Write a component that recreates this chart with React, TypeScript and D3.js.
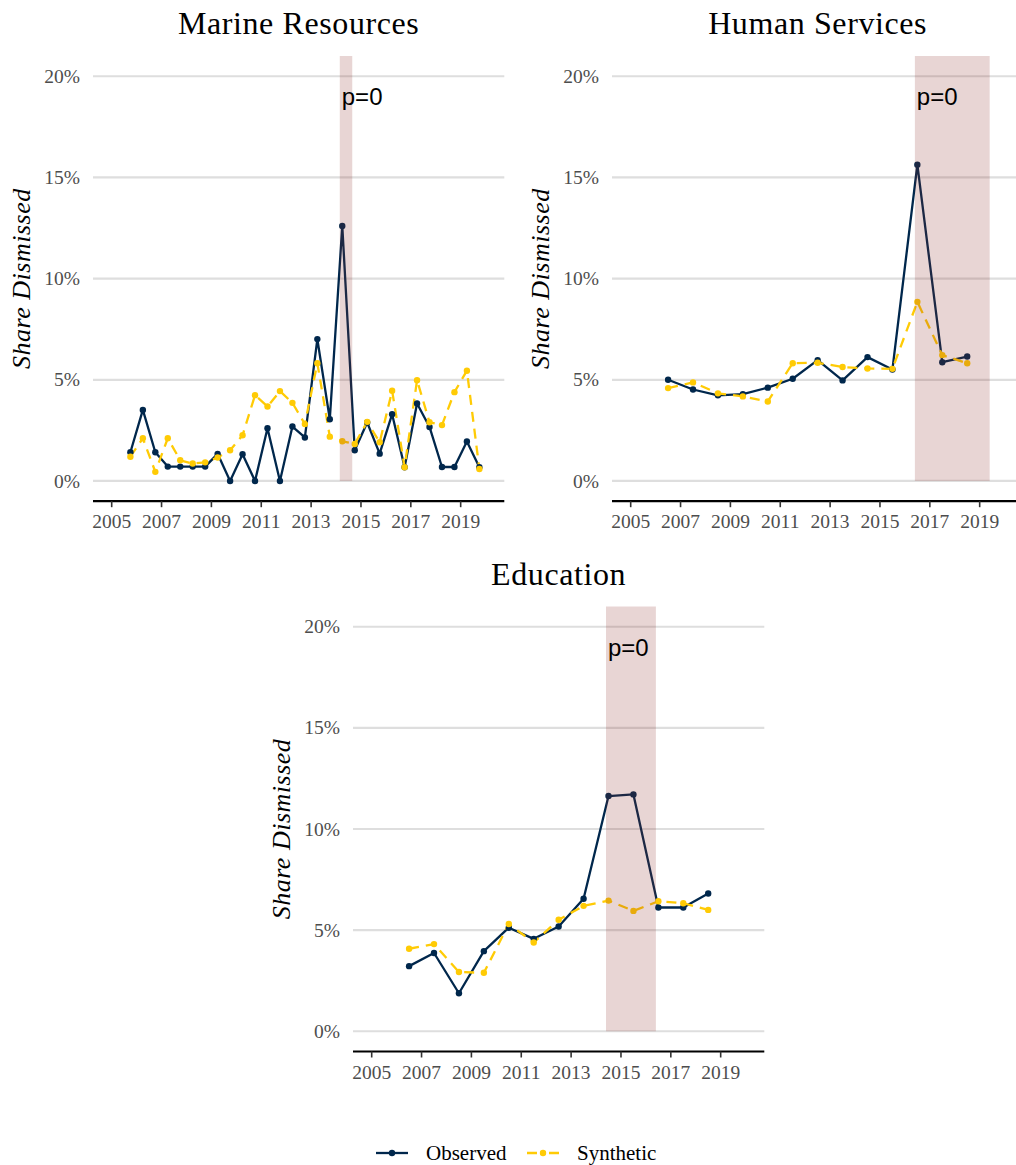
import React from "react";
import * as d3 from "d3";

// Share of employees dismissed (percent) by half-year / year, observed vs. synthetic control
const MARINE_YEARS = [
  2005.75, 2006.25, 2006.75, 2007.25, 2007.75, 2008.25, 2008.75, 2009.25, 2009.75, 2010.25,
  2010.75, 2011.25, 2011.75, 2012.25, 2012.75, 2013.25, 2013.75, 2014.25, 2014.75, 2015.25,
  2015.75, 2016.25, 2016.75, 2017.25, 2017.75, 2018.25, 2018.75, 2019.25, 2019.75,
];
const MARINE_OBSERVED = [
  1.42, 3.51, 1.42, 0.71, 0.71, 0.71, 0.71, 1.34, 0, 1.32,
  0, 2.61, 0, 2.69, 2.15, 7.01, 3.05, 12.6, 1.52, 2.89,
  1.35, 3.3, 0.68, 3.83, 2.67, 0.69, 0.69, 1.95, 0.68,
];
const MARINE_SYNTHETIC = [
  1.2, 2.11, 0.45, 2.11, 1.02, 0.86, 0.92, 1.16, 1.52, 2.26,
  4.24, 3.68, 4.44, 3.86, 2.81, 5.82, 2.19, 1.96, 1.83, 2.92,
  1.91, 4.46, 0.68, 4.98, 2.9, 2.76, 4.39, 5.45, 0.59,
];
const MARINE_BAND = [2014.15, 2014.65];

const HUMAN_YEARS = [2006.5, 2007.5, 2008.5, 2009.5, 2010.5, 2011.5, 2012.5, 2013.5, 2014.5, 2015.5, 2016.5, 2017.5, 2018.5];
const HUMAN_OBSERVED = [5.0, 4.52, 4.23, 4.29, 4.61, 5.05, 5.97, 4.97, 6.12, 5.51, 15.63, 5.87, 6.15];
const HUMAN_SYNTHETIC = [4.59, 4.87, 4.33, 4.18, 3.93, 5.82, 5.84, 5.63, 5.56, 5.54, 8.85, 6.22, 5.82];
const HUMAN_BAND = [2016.4, 2019.4];

const EDU_YEARS = [2006.5, 2007.5, 2008.5, 2009.5, 2010.5, 2011.5, 2012.5, 2013.5, 2014.5, 2015.5, 2016.5, 2017.5, 2018.5];
const EDU_OBSERVED = [3.22, 3.87, 1.88, 3.96, 5.12, 4.57, 5.18, 6.55, 11.63, 11.71, 6.12, 6.12, 6.81];
const EDU_SYNTHETIC = [4.08, 4.31, 2.93, 2.89, 5.3, 4.39, 5.51, 6.2, 6.46, 5.95, 6.43, 6.33, 6.0];
const EDU_BAND = [2014.4, 2016.4];

const X_TICKS = [2005, 2007, 2009, 2011, 2013, 2015, 2017, 2019];
const Y_TICKS = [0, 5, 10, 15, 20];
const X_DOMAIN = [2004.25, 2020.75];
const Y_DOMAIN = [-1, 21];
const P_LABEL = "p=0";
const P_LABEL_Y = 19;

const SERIES = ["Observed", "Synthetic"];
const COLORS: Record<string, string> = { Observed: "#00274C", Synthetic: "#FFCB05" };

const SERIF = "'Liberation Serif', 'Times New Roman', serif";
const SANS = "'Liberation Sans', Arial, sans-serif";

type PanelProps = {
  title: string;
  years: number[];
  observed: number[];
  synthetic: number[];
  band: number[];
  left: number;
  right: number;
  top: number;
  bottom: number;
};

function Panel({ title, years, observed, synthetic, band, left, right, top, bottom }: PanelProps) {
  const x = d3.scaleLinear().domain(X_DOMAIN).range([left, right]);
  const y = d3.scaleLinear().domain(Y_DOMAIN).range([bottom, top]);
  const line = d3
    .line<number>()
    .x((_, i) => x(years[i]))
    .y((d) => y(d));
  const series = [
    { name: "Observed", values: observed },
    { name: "Synthetic", values: synthetic },
  ];
  return (
    <g>
      <text
        x={(left + right) / 2}
        y={top - 22}
        textAnchor="middle"
        fontFamily={SERIF}
        fontSize={32}
        letterSpacing={0.6}
        fill="#000"
      >
        {title}
      </text>
      {/* horizontal grid */}
      {Y_TICKS.map((t) => (
        <line key={`g${t}`} x1={left} x2={right} y1={y(t)} y2={y(t)} stroke="#dedede" strokeWidth={2.2} />
      ))}
      {/* y tick labels */}
      {Y_TICKS.map((t) => (
        <text
          key={`yl${t}`}
          x={left - 13}
          y={y(t)}
          dy="0.34em"
          textAnchor="end"
          fontFamily={SERIF}
          fontSize={19.5}
          fill="#4d4d4d"
        >
          {`${t}%`}
        </text>
      ))}
      <text
        transform={`translate(${left - 63},${(top + bottom) / 2}) rotate(-90)`}
        textAnchor="middle"
        fontFamily={SERIF}
        fontStyle="italic"
        fontSize={26}
        letterSpacing={0.5}
        fill="#000"
      >
        Share Dismissed
      </text>
      {/* x axis */}
      <line x1={left} x2={right} y1={bottom} y2={bottom} stroke="#000" strokeWidth={2.2} />
      {X_TICKS.map((t) => (
        <g key={`xt${t}`}>
          <line x1={x(t)} x2={x(t)} y1={bottom} y2={bottom + 6} stroke="#333" strokeWidth={1.6} />
          <text x={x(t)} y={bottom + 27} textAnchor="middle" fontFamily={SERIF} fontSize={19.5} fill="#4d4d4d">
            {t}
          </text>
        </g>
      ))}
      {/* series lines */}
      {series.map((s) => (
        <path
          key={`l${s.name}`}
          d={line(s.values) || ""}
          fill="none"
          stroke={COLORS[s.name]}
          strokeWidth={2.3}
          strokeDasharray={s.name === "Synthetic" ? "10,7" : undefined}
          strokeLinejoin="round"
        />
      ))}
      {series.map((s) =>
        s.values.map((v, i) => (
          <circle key={`p${s.name}${i}`} cx={x(years[i])} cy={y(v)} r={3.2} fill={COLORS[s.name]} />
        ))
      )}
      {/* treatment window */}
      <rect
        x={x(band[0])}
        width={x(band[1]) - x(band[0])}
        y={top}
        height={y(0) - top}
        fill="#8c2d28"
        fillOpacity={0.2}
      />
      <text x={x(band[0]) + 2} y={y(P_LABEL_Y)} dy="0.36em" fontFamily={SANS} fontSize={24} fill="#000">
        {P_LABEL}
      </text>
    </g>
  );
}

function Legend({ cy }: { cy: number }) {
  const items = [
    { name: SERIES[0], x0: 376, tx: 426 },
    { name: SERIES[1], x0: 527, tx: 577 },
  ];
  return (
    <g>
      {items.map((it) => (
        <g key={it.name}>
          <line
            x1={it.x0}
            x2={it.x0 + 32}
            y1={cy}
            y2={cy}
            stroke={COLORS[it.name]}
            strokeWidth={2.3}
            strokeDasharray={it.name === "Synthetic" ? "10,3,6,3,10" : undefined}
          />
          <circle cx={it.x0 + 16} cy={cy} r={3.2} fill={COLORS[it.name]} />
          <text x={it.tx} y={cy} dy="0.34em" fontFamily={SERIF} fontSize={21} fill="#000">
            {it.name}
          </text>
        </g>
      ))}
    </g>
  );
}

export default function App() {
  return (
    <svg
      width={1016}
      height={1165}
      style={{ position: "absolute", left: 0, top: 0, background: "#fff" }}
      xmlns="http://www.w3.org/2000/svg"
    >
      <rect width={1016} height={1165} fill="#fff" />
      <Panel
        title="Marine Resources"
        years={MARINE_YEARS}
        observed={MARINE_OBSERVED}
        synthetic={MARINE_SYNTHETIC}
        band={MARINE_BAND}
        left={93}
        right={504.3}
        top={56}
        bottom={501.2}
      />
      <Panel
        title="Human Services"
        years={HUMAN_YEARS}
        observed={HUMAN_OBSERVED}
        synthetic={HUMAN_SYNTHETIC}
        band={HUMAN_BAND}
        left={612}
        right={1023.3}
        top={56}
        bottom={501.2}
      />
      <Panel
        title="Education"
        years={EDU_YEARS}
        observed={EDU_OBSERVED}
        synthetic={EDU_SYNTHETIC}
        band={EDU_BAND}
        left={353}
        right={764.3}
        top={606.5}
        bottom={1051.5}
      />
      <Legend cy={1153} />
    </svg>
  );
}
